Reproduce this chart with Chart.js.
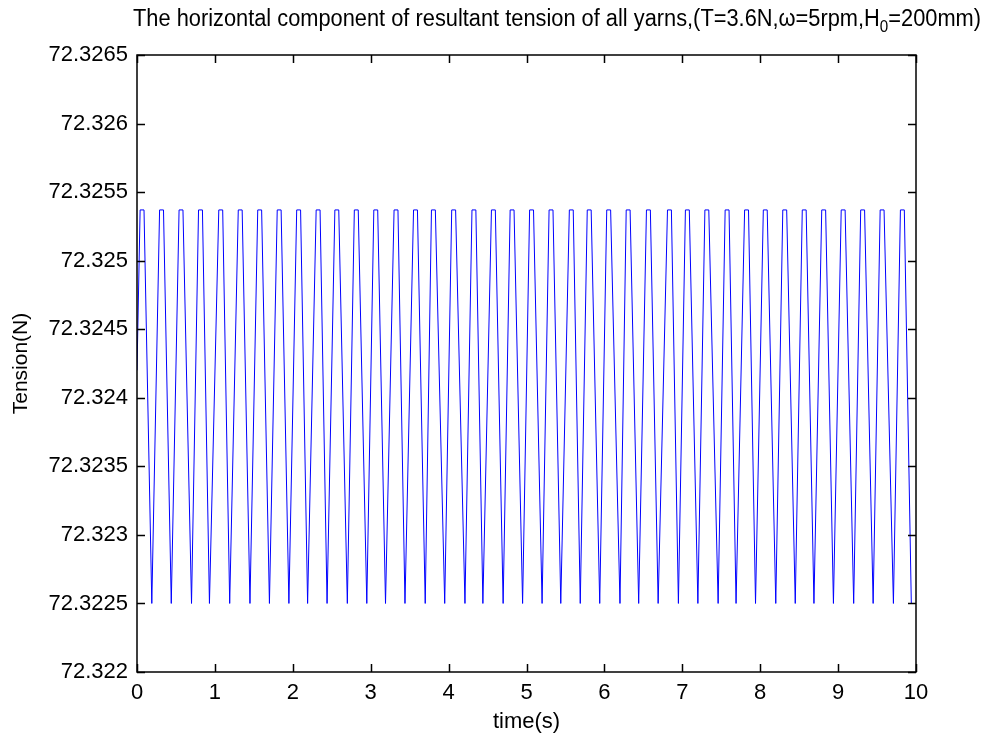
<!DOCTYPE html>
<html>
<head>
<meta charset="utf-8">
<script src="https://cdn.jsdelivr.net/npm/chart.js@4/dist/chart.umd.min.js"></script>
<style>
  html, body { margin: 0; padding: 0; background: #ffffff; }
  #wrap { width: 988px; height: 741px; }
</style>
</head>
<body>
<div id="wrap"><canvas id="c" width="988" height="741"></canvas></div>
<script>
// Axis ticks
const timeTicks = [0, 1, 2, 3, 4, 5, 6, 7, 8, 9, 10];
const timeTickLabels = ['0', '1', '2', '3', '4', '5', '6', '7', '8', '9', '10'];
const tensionTicks = [72.322, 72.3225, 72.323, 72.3235, 72.324, 72.3245, 72.325, 72.3255, 72.326, 72.3265];
const tensionTickLabels = ['72.322', '72.3225', '72.323', '72.3235', '72.324', '72.3245', '72.325', '72.3255', '72.326', '72.3265'];

// Tension signal (s, N)
const startTime = 0;
const startTension = 72.3242;
const peakTension = 72.32537;
const troughTension = 72.3225;
const peakStart = [0.04, 0.29, 0.54, 0.79, 1.05, 1.30, 1.55, 1.80, 2.05, 2.30,
                   2.54, 2.79, 3.04, 3.30, 3.55, 3.78, 4.04, 4.30, 4.55, 4.79,
                   5.04, 5.29, 5.55, 5.78, 6.03, 6.28, 6.54, 6.81, 7.04, 7.29,
                   7.55, 7.80, 8.04, 8.29, 8.54, 8.79, 9.04, 9.29, 9.54, 9.80];
const peakEnd =   [0.09, 0.34, 0.59, 0.84, 1.10, 1.35, 1.60, 1.85, 2.10, 2.35,
                   2.59, 2.84, 3.09, 3.35, 3.60, 3.83, 4.09, 4.35, 4.60, 4.84,
                   5.09, 5.34, 5.60, 5.83, 6.08, 6.33, 6.59, 6.86, 7.09, 7.34,
                   7.60, 7.85, 8.09, 8.34, 8.59, 8.84, 9.09, 9.34, 9.59, 9.85];
const troughTime = [0.19, 0.44, 0.70, 0.93, 1.19, 1.45, 1.70, 1.95, 2.19, 2.44,
                    2.70, 2.95, 3.19, 3.44, 3.70, 3.95, 4.21, 4.44, 4.70, 4.95,
                    5.20, 5.44, 5.69, 5.94, 6.20, 6.44, 6.69, 6.95, 7.20, 7.46,
                    7.69, 7.94, 8.20, 8.45, 8.69, 8.94, 9.20, 9.45, 9.71, 9.94];

const points = [{ x: startTime, y: startTension }];
for (let i = 0; i < peakStart.length; i++) {
  points.push({ x: peakStart[i], y: peakTension });
  points.push({ x: peakEnd[i], y: peakTension });
  points.push({ x: troughTime[i], y: troughTension });
}

const FONT = '"Liberation Sans", Arial, Helvetica, sans-serif';

// Axes box, inward tick marks and the title with its subscript
const frame = {
  id: 'frame',
  afterDraw(chart) {
    const { ctx, chartArea: a } = chart;
    const xs = chart.scales.x, ys = chart.scales.y;
    ctx.save();
    ctx.strokeStyle = '#000';
    ctx.lineWidth = 1.5;
    ctx.strokeRect(a.left, a.top, a.right - a.left, a.bottom - a.top);
    const tl = 8;
    ctx.beginPath();
    timeTicks.forEach(v => {
      const px = Math.round(xs.getPixelForValue(v)) + 0.5;
      ctx.moveTo(px, a.bottom); ctx.lineTo(px, a.bottom - tl);
      ctx.moveTo(px, a.top); ctx.lineTo(px, a.top + tl);
    });
    tensionTicks.forEach(v => {
      const py = Math.round(ys.getPixelForValue(v)) + 0.5;
      ctx.moveTo(a.left, py); ctx.lineTo(a.left + tl, py);
      ctx.moveTo(a.right, py); ctx.lineTo(a.right - tl, py);
    });
    ctx.stroke();

    // title
    const p1 = 'The horizontal component of resultant tension of all yarns,(T=3.6N,\u03c9=5rpm,H';
    const sub = '0';
    const p3 = '=200mm)';
    ctx.fillStyle = '#000';
    ctx.textBaseline = 'alphabetic';
    ctx.textAlign = 'left';
    const mainFont = '23px ' + FONT, subFont = '16px ' + FONT;
    ctx.font = mainFont;
    const w1 = ctx.measureText(p1).width, w3 = ctx.measureText(p3).width;
    ctx.font = subFont;
    const w2 = ctx.measureText(sub).width;
    const sx = 848 / (w1 + w2 + w3);
    ctx.translate(133, 26);
    ctx.scale(sx, 1);
    ctx.font = mainFont;
    ctx.fillText(p1, 0, 0);
    ctx.font = subFont;
    ctx.fillText(sub, w1, 6);
    ctx.font = mainFont;
    ctx.fillText(p3, w1 + w2, 0);
    ctx.restore();
  }
};

new Chart(document.getElementById('c'), {
  type: 'scatter',
  data: {
    datasets: [{
      data: points,
      showLine: true,
      borderColor: '#0000ff',
      borderWidth: 1,
      pointRadius: 0,
      pointHoverRadius: 0,
      tension: 0,
      fill: false
    }]
  },
  options: {
    responsive: false,
    animation: false,
    devicePixelRatio: 1,
    events: [],
    layout: { padding: { left: 0, right: 72, top: 55, bottom: 0 } },
    plugins: { legend: { display: false }, title: { display: false }, tooltip: { enabled: false } },
    scales: {
      x: {
        type: 'linear',
        min: 0, max: 10,
        afterBuildTicks: s => { s.ticks = timeTicks.map(v => ({ value: v })); },
        afterFit: s => { s.height = 741 - 672; },
        grid: { display: false, drawTicks: false },
        border: { display: false },
        ticks: {
          color: '#000', padding: 8, maxRotation: 0, autoSkip: false,
          font: { family: FONT, size: 22 },
          callback: (v, i) => timeTickLabels[i]
        },
        title: {
          display: true, text: 'time(s)', color: '#000',
          font: { family: FONT, size: 22 }, padding: { top: 0, bottom: 6 }
        }
      },
      y: {
        type: 'linear',
        min: 72.322, max: 72.3265,
        afterBuildTicks: s => { s.ticks = tensionTicks.map(v => ({ value: v })); },
        afterFit: s => { s.width = 137; },
        grid: { display: false, drawTicks: false },
        border: { display: false },
        ticks: {
          color: '#000', padding: 9, autoSkip: false,
          font: { family: FONT, size: 22 },
          callback: (v, i) => tensionTickLabels[i]
        },
        title: {
          display: true, text: 'Tension(N)', color: '#000',
          font: { family: FONT, size: 21 }, padding: { top: 9, bottom: 0 }
        }
      }
    }
  },
  plugins: [frame]
});
</script>
</body>
</html>
